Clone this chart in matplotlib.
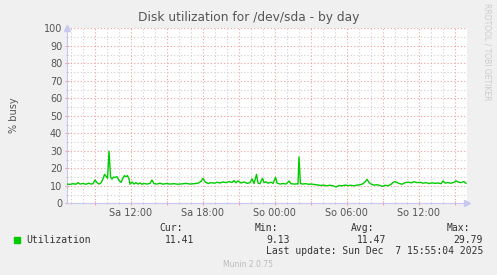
import matplotlib
matplotlib.use("Agg")
import matplotlib.pyplot as plt
from matplotlib.ticker import MultipleLocator, FuncFormatter

# hours since Sat 00:00, % busy
hours = [6.70, 6.95, 7.20, 7.45, 7.62, 7.78, 8.03, 8.28, 8.53, 8.70, 8.87, 9.03, 9.20, 9.37, 9.53,
         9.70, 9.83, 9.95, 10.08, 10.20, 10.33, 10.45, 10.58, 10.70, 10.87, 11.03, 11.20, 11.37, 11.49,
         11.62, 11.74, 11.87, 11.95, 12.12, 12.28, 12.45, 12.62, 12.78, 12.95, 13.12, 13.37, 13.62,
         13.78, 13.95, 14.20, 14.45, 14.70, 14.95, 15.28, 15.62, 15.95, 16.28, 16.62, 16.95, 17.28,
         17.62, 17.87, 18.03, 18.20, 18.45, 18.70, 18.95, 19.20, 19.45, 19.70, 19.95, 20.20, 20.45,
         20.62, 20.78, 20.95, 21.20, 21.45, 21.70, 21.95, 22.12, 22.28, 22.49, 22.62, 22.78, 22.99,
         23.12, 23.28, 23.45, 23.70, 23.87, 24.08, 24.20, 24.45, 24.70, 24.95, 25.20, 25.37, 25.62,
         25.87, 25.95, 26.03, 26.15, 26.33, 26.58, 26.83, 27.08, 27.33, 27.58, 27.83, 28.08, 28.33,
         28.58, 28.83, 29.12, 29.37, 29.62, 29.87, 30.12, 30.37, 30.62, 30.87, 31.12, 31.37, 31.53,
         31.70, 31.87, 32.03, 32.28, 32.53, 32.78, 32.99, 33.20, 33.45, 33.70, 33.87, 34.03, 34.20,
         34.45, 34.62, 34.87, 35.12, 35.37, 35.62, 35.87, 36.12, 36.37, 36.62, 36.87, 37.12, 37.37,
         37.62, 37.87, 38.03, 38.20, 38.45, 38.70, 38.95, 39.12, 39.28, 39.53, 39.78, 39.95]
busy = [11.0, 10.8, 11.2, 10.9, 11.8, 11.0, 11.3, 10.9, 11.5, 11.0, 11.2, 13.3, 11.8, 11.0, 11.6,
        14.0, 16.5, 15.5, 14.3, 29.8, 15.0, 13.8, 15.0, 14.8, 15.2, 13.0, 12.0, 14.5, 15.8,
        15.2, 15.8, 14.0, 10.9, 12.2, 11.0, 11.8, 11.0, 11.6, 10.9, 11.3, 11.0, 11.4,
        13.3, 11.2, 11.0, 11.5, 10.9, 11.3, 11.0, 11.2, 10.9, 11.1, 11.4, 11.0, 11.2,
        11.5, 12.5, 14.3, 12.3, 11.3, 11.8, 11.5, 12.0, 11.6, 12.2, 11.8, 12.4, 11.9,
        13.0, 11.7, 12.8, 11.6, 12.2, 11.4, 11.8, 14.0, 11.3, 16.5, 11.5, 11.2, 14.3,
        11.8, 12.3, 11.5, 12.0, 11.4, 14.8, 11.6, 11.0, 11.3, 11.0, 12.7, 11.2, 11.0,
        11.1, 11.0, 26.5, 11.3, 11.0, 11.2, 10.9, 11.0, 10.7, 10.5, 10.2, 10.4, 10.0,
        10.3, 10.1, 9.3, 10.2, 10.0, 10.4, 10.1, 10.3, 10.0, 10.4, 10.6, 11.2, 12.2,
        13.7, 11.8, 11.0, 10.4, 10.6, 10.2, 9.7, 10.3, 10.0, 10.8, 12.0, 12.4, 11.8,
        11.2, 10.9, 11.8, 12.1, 11.7, 12.3, 11.8, 12.0, 11.5, 11.8, 11.3, 11.7, 11.4,
        11.6, 11.2, 12.8, 11.6, 11.8, 11.5, 12.0, 12.8, 12.2, 11.8, 12.4, 11.41]

t_start, t_end = 6.70, 40.03
label_names = {12: "Sa 12:00", 18: "Sa 18:00", 24: "So 00:00", 30: "So 06:00", 36: "So 12:00"}
stat_names = ["Cur:", "Min:", "Avg:", "Max:"]
stat_values = ["11.41", "9.13", "11.47", "29.79"]

W, H = 497, 275
fig = plt.figure(figsize=(W / 100, H / 100), dpi=100, facecolor="#f0f0f0")
ax = fig.add_axes([67 / W, (H - 203.3) / H, 400 / W, 175 / H])
ax.set_facecolor("white")

ax.plot(hours, busy, color="#00cc00", lw=1.0, zorder=3)

ax.set_xlim(t_start, t_end)
ax.set_ylim(0, 100)
ax.xaxis.set_major_locator(MultipleLocator(3))
ax.xaxis.set_minor_locator(MultipleLocator(1))
ax.yaxis.set_major_locator(MultipleLocator(10))
ax.yaxis.set_minor_locator(MultipleLocator(5))
ax.xaxis.set_major_formatter(FuncFormatter(lambda v, p: label_names.get(int(round(v)), "")))

ax.grid(which="minor", color="#d0d0d0", lw=0.8, ls=(0, (1, 2)))
ax.grid(which="major", color="#eea0a0", lw=0.8, ls=(0, (1, 2)))
ax.set_axisbelow(True)

for s in ["top", "right"]:
    ax.spines[s].set_visible(False)
for s in ["left", "bottom"]:
    ax.spines[s].set_color("#c8c8f0")
    ax.spines[s].set_linewidth(0.8)

ax.tick_params(which="major", labelsize=7, labelcolor="#555555", color="#f0a0a0",
               length=3, width=0.8, direction="inout", pad=2)
ax.tick_params(which="minor", color="#bbbbbb", length=2, width=0.6, direction="inout")

# axis arrows
ax.plot([0], [1.0], marker="^", ms=5, color="#c8c8f0", transform=ax.transAxes, clip_on=False)
ax.plot([1.0], [0], marker=">", ms=5, color="#c8c8f0", transform=ax.transAxes, clip_on=False)

fig.text(249 / W, 1 - 18 / H, "Disk utilization for /dev/sda - by day", ha="center", va="center",
         fontsize=8.8, color="#555555")
fig.text(14 / W, 1 - 115 / H, "% busy", rotation=90, ha="center", va="center",
         fontsize=7, color="#555555")
fig.text(487 / W, 1 - 52 / H, "RRDTOOL / TOBI OETIKER", rotation=270, ha="center", va="center",
         fontsize=5.5, color="#cccccc")

mono = "DejaVu Sans Mono"
fig.patches.append(plt.Rectangle((14 / W, 1 - 242.5 / H), 6 / W, 6 / H, transform=fig.transFigure,
                                 color="#00cc00", figure=fig))
fig.text(26 / W, 1 - 239.7 / H, "Utilization", ha="left", va="center", fontsize=7, family=mono, color="#333333")
name_x = [159, 255, 351, 447]
value_x = [194, 290, 386, 483]
for nm, nx in zip(stat_names, name_x):
    fig.text(nx / W, 1 - 228.3 / H, nm, ha="left", va="center", fontsize=7, family=mono, color="#333333")
for val, vx in zip(stat_values, value_x):
    fig.text(vx / W, 1 - 239.7 / H, val, ha="right", va="center", fontsize=7, family=mono, color="#333333")
fig.text(483 / W, 1 - 251 / H, "Last update: Sun Dec  7 15:55:04 2025", ha="right", va="center",
         fontsize=7, family=mono, color="#333333")
fig.text(248 / W, 1 - 264.3 / H, "Munin 2.0.75", ha="center", va="center", fontsize=5.5, color="#bbbbbb")

fig.savefig("out.png", dpi=100, facecolor=fig.get_facecolor())
